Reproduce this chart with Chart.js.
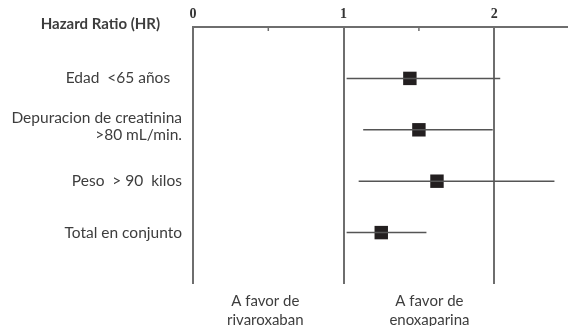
<!DOCTYPE html>
<html>
<head>
<meta charset="utf-8">
<script src="https://cdn.jsdelivr.net/npm/chart.js@4.4.1/dist/chart.umd.min.js"></script>
<style>
  body { margin: 0; background: #fff; }
  #wrap { width: 568px; height: 326px; }
</style>
</head>
<body>
<div id="wrap"><canvas id="forest" width="568" height="326"></canvas></div>
<script>
// --- DATA --- //
const headerLabel = 'Hazard Ratio (HR)      '
const categories = [
  'Edad  <65 años   ',
  ['Depuracion de creatinina', '>80 mL/min.'],
  'Peso  > 90  kilos',
  'Total en conjunto'
]
const hazardRatio = [1.44, 1.50, 1.62, 1.25]
const lowerCI = [1.02, 1.13, 1.10, 1.02]
const upperCI = [2.04, 1.99, 2.40, 1.55]

const axisTicks = [0, 0.5, 1, 1.5, 2]
const minorTicks = [0.5, 1.5]
const favorLabels = [['A favor de', 'rivaroxaban'], ['A favor de', 'enoxaparina']]
const favorPositions = [0.48, 1.57]

const textColor = '#3d3d3d'
const lineGrey = '#6e6e6e'

// --- DATASETS --- //
const ciDatasets = categories.map((c, i) => ({
  type: 'line',
  data: [{ x: lowerCI[i], y: i + 1 }, { x: upperCI[i], y: i + 1 }],
  borderColor: '#555555',
  borderWidth: 1.5,
  pointRadius: 0,
  fill: false
}))

const pointDataset = {
  type: 'scatter',
  data: hazardRatio.map((v, i) => ({ x: v, y: i + 1 })),
  pointStyle: 'rect',
  pointRadius: 9.5,
  pointBackgroundColor: '#231f20',
  pointBorderColor: '#231f20',
  pointBorderWidth: 0
}

// --- MINOR TICKS (below top axis) --- //
const minorTickPlugin = {
  id: 'minorTicks',
  afterDraw: chart => {
    const ctx = chart.ctx
    const x = chart.scales.x
    const top = chart.chartArea.top
    ctx.save()
    ctx.strokeStyle = lineGrey
    ctx.lineWidth = 1.5
    minorTicks.forEach(v => {
      const px = x.getPixelForValue(v)
      ctx.beginPath()
      ctx.moveTo(px, top)
      ctx.lineTo(px, top + 4)
      ctx.stroke()
    })
    ctx.restore()
  }
}

const noSidePadding = (scale, h) => {
  scale.height = h
  scale.paddingLeft = 0
  scale.paddingRight = 0
}

const config = {
  type: 'scatter',
  data: { datasets: [...ciDatasets, pointDataset] },
  options: {
    responsive: false,
    animation: false,
    layout: { padding: 0, autoPadding: false },
    plugins: {
      legend: { display: false },
      tooltip: { enabled: false }
    },
    scales: {
      x: {
        type: 'linear',
        position: 'top',
        min: 0,
        max: 2.49,
        afterBuildTicks: scale => {
          scale.ticks = axisTicks.map(v => ({ value: v }))
        },
        afterFit: scale => noSidePadding(scale, 27),
        ticks: {
          autoSkip: false,
          maxRotation: 0,
          padding: 4,
          color: '#333333',
          font: { family: "'Liberation Serif', serif", size: 14, weight: 'bold' },
          callback: v => (Number.isInteger(v) ? String(v) : '')
        },
        grid: {
          drawTicks: false,
          lineWidth: 2,
          color: ctx => (ctx.tick && Number.isInteger(ctx.tick.value) ? lineGrey : 'rgba(0,0,0,0)')
        },
        border: { display: true, color: lineGrey, width: 2 }
      },
      x2: {
        type: 'linear',
        position: 'bottom',
        min: 0,
        max: 2.49,
        afterBuildTicks: scale => {
          scale.ticks = favorPositions.map(v => ({ value: v }))
        },
        afterFit: scale => noSidePadding(scale, 42),
        ticks: {
          autoSkip: false,
          maxRotation: 0,
          padding: 8,
          color: textColor,
          font: { family: 'Lato', size: 15, lineHeight: 1.25 },
          callback: (v, i) => favorLabels[i]
        },
        grid: { display: false, drawTicks: false },
        border: { display: false }
      },
      y: {
        type: 'linear',
        min: 0,
        max: 5,
        reverse: true,
        afterBuildTicks: scale => {
          scale.ticks = [-0.06, 1, 1.93, 3, 4].map(v => ({ value: v }))
        },
        afterFit: scale => { scale.width = 193 },
        ticks: {
          autoSkip: false,
          padding: 11,
          color: textColor,
          font: ctx => ({
            family: 'Lato',
            size: ctx.index === 0 ? 15 : 15.5,
            lineHeight: 1.12,
            weight: ctx.index === 0 ? 'bold' : 'normal'
          }),
          callback: (v, i) => (i === 0 ? headerLabel : categories[i - 1])
        },
        grid: { display: false, drawTicks: false },
        border: { display: false }
      }
    }
  },
  plugins: [minorTickPlugin]
}

const forestChart = new Chart(document.getElementById('forest'), config)
</script>
</body>
</html>
